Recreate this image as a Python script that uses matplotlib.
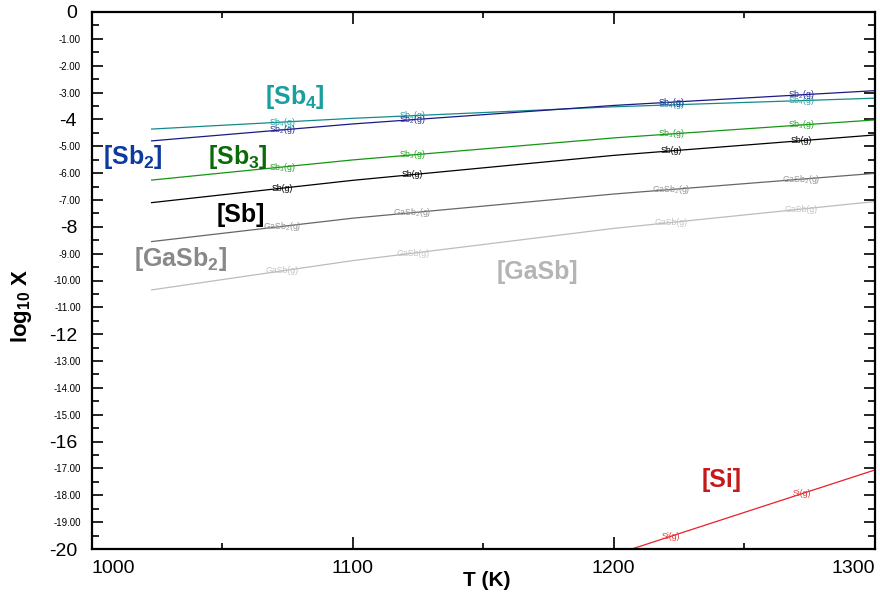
"""Vapour species over GaSb / Si: log10 X against T."""
import numpy as np
import matplotlib
matplotlib.use('Agg')
import matplotlib.pyplot as plt
from matplotlib.ticker import MultipleLocator

plt.rcParams['font.family'] = ['Liberation Sans', 'DejaVu Sans']
plt.rcParams['mathtext.default'] = 'regular'

# --- data (T in K, log10 X) ---
T_sb = [1023, 1100, 1200, 1300]
sb4 = [-4.36, -3.96, -3.53, -3.21]
sb2 = [-4.80, -4.17, -3.48, -2.93]
sb3 = [-6.26, -5.51, -4.69, -4.02]
sb1 = [-7.10, -6.27, -5.34, -4.58]
gasb2 = [-8.55, -7.68, -6.78, -6.01]
gasb = [-10.35, -9.26, -8.06, -7.06]

T_si = [1200, 1300]
si = [-20.22, -17.06]

# columns where the small inline species names sit
label_T = [1073, 1123, 1222, 1272]

# (T, y, label, line colour, tag colour, big-label colour, big-label pos)
SERIES = [
    (T_sb, sb4, 'Sb$_4$', '#138a8a', '#2aa3a3', '#1a9e9e', (1078, -3.17)),
    (T_sb, sb2, 'Sb$_2$', '#1a1a85', '#2b2b9e', '#0d3a9e', (1016, -5.40)),
    (T_sb, sb3, 'Sb$_3$', '#149614', '#2aa52a', '#0a6a0a', (1056, -5.40)),
    (T_sb, sb1, 'Sb', '#000000', '#000000', '#000000', (1057, -7.56)),
    (T_sb, gasb2, 'GaSb$_2$', '#666666', '#969696', '#888888', (1034, -9.20)),
    (T_sb, gasb, 'GaSb', '#bcbcbc', '#c4c4c4', '#b4b4b4', (1171, -9.68)),
    (T_si, si, 'Si', '#e8202a', '#e83a3a', '#c41a1a', (1241.5, -17.43)),
]

fig = plt.figure(figsize=(8.8, 5.95), dpi=100)
ax = fig.add_axes([91.6 / 880, 1 - 549 / 595, 783 / 880, 537 / 595])
ax.set_xlim(1000, 1300)
ax.set_ylim(-20, 0)

for T, y, name, lc, tc, bc, (bx, by) in SERIES:
    ax.plot(T, y, color=lc, lw=0.9, zorder=2)
    for lt in label_T:
        if T[0] <= lt <= T[-1]:
            yy = np.interp(lt, T, y)
            if yy < -20:
                continue
            ax.text(lt, yy, name + '(g)', fontsize=6.3, color=tc,
                    ha='center', va='center', zorder=3)
    ax.text(bx, by, '[' + name + ']', fontsize=18, fontweight='bold',
            color=bc, ha='center', va='center', zorder=4)

# x axis
ax.xaxis.set_major_locator(MultipleLocator(100))
ax.xaxis.set_minor_locator(MultipleLocator(50))
ax.set_xticks([1000, 1100, 1200, 1300])
ax.set_xticklabels(['1000', '1100', '1200', '1300'])
ax.tick_params(axis='x', which='major', direction='in', length=8.5, width=1.2,
               labelsize=14, pad=8, top=True)
ax.tick_params(axis='x', which='minor', direction='in', length=4.5, width=1.2,
               top=True)
xl = ax.get_xticklabels()
xl[0].set_ha('left')
xl[-1].set_ha('right')

# y axis: big labels every 4, small "-n.00" labels otherwise
yvals = list(range(0, -21, -1))
ylabels = [str(v) if v % 4 == 0 else f'{v:.2f}' for v in yvals]
ax.set_yticks(yvals)
ax.set_yticklabels(ylabels)
ax.yaxis.set_minor_locator(MultipleLocator(0.5))
ax.tick_params(axis='y', which='major', direction='in', length=8, width=1.2,
               right=True)
ax.tick_params(axis='y', which='minor', direction='in', length=5, width=1.2,
               right=True)
for v, tick in zip(yvals, ax.yaxis.get_major_ticks()):
    if v % 4 == 0:
        tick.label1.set_fontsize(14)
        tick.set_pad(10.5)
    else:
        tick.label1.set_fontsize(7)
        tick.set_pad(7.6)

for sp in ax.spines.values():
    sp.set_linewidth(1.6)

ax.set_xlabel('T (K)', fontsize=15, fontweight='bold', va='center')
ax.xaxis.set_label_coords(0.505, -0.058)
ax.set_ylabel('log$_{10}$ X', fontsize=16, fontweight='bold', va='center')
ax.yaxis.set_label_coords(-0.089, 0.4525)

fig.savefig('out.png', dpi=100, facecolor='white')
